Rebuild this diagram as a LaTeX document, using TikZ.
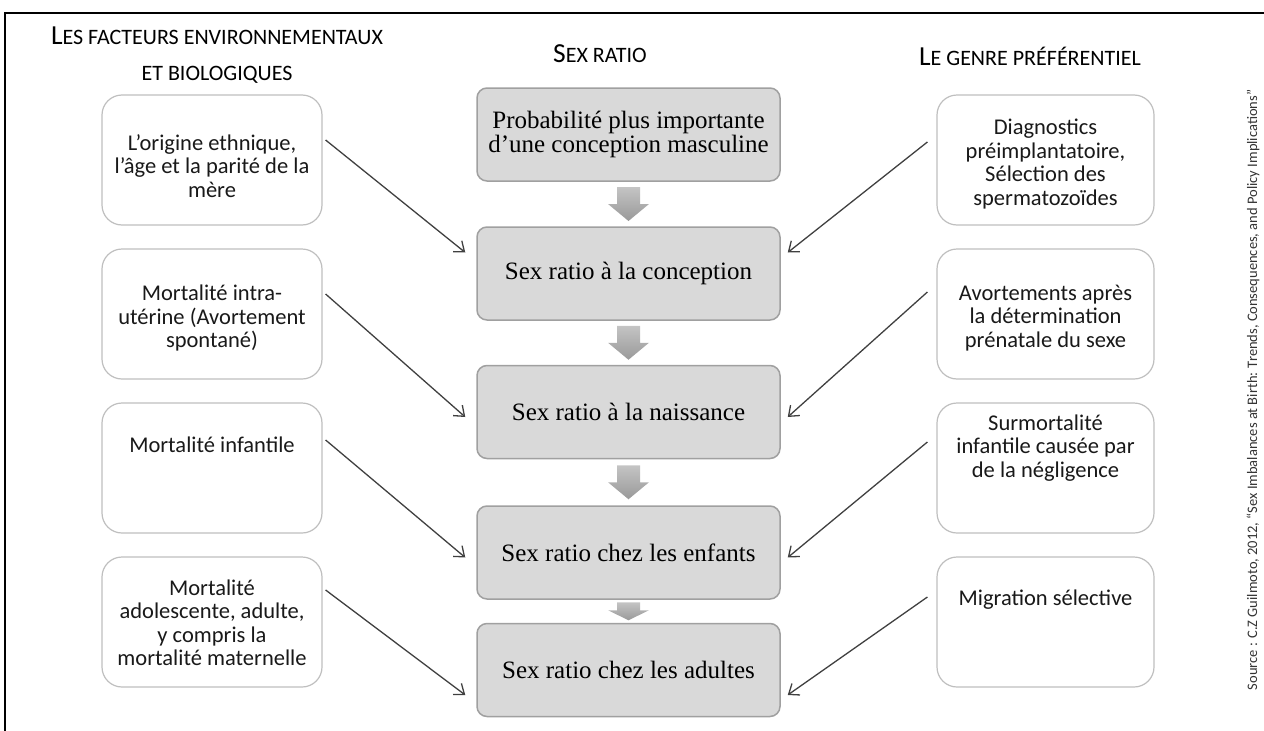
\documentclass[tikz,border=0pt]{standalone}
\usepackage{fontspec}
\setmainfont{Carlito}
\newfontfamily\ratiofont{Liberation Serif}
\usetikzlibrary{arrows.meta,calc}

\definecolor{boxline}{HTML}{BFBFBF}
\definecolor{ratiofill}{HTML}{D9D9D9}
\definecolor{ratioline}{HTML}{A0A0A0}
\definecolor{linkgray}{HTML}{404040}
\definecolor{arrowtop}{HTML}{C4C4C4}
\definecolor{arrowbot}{HTML}{999999}
\definecolor{srcgray}{HTML}{333333}

\tikzstyle{sidebox} = [draw=boxline, fill=white, line width=1.2pt,
    rectangle, rounded corners=20pt, minimum width=220pt, minimum height=130pt]
\tikzstyle{sidetext} = [align=center, text=black!90,
    font=\fontsize{22.5pt}{23.5pt}\selectfont]
\tikzstyle{ratiobox} = [draw=ratioline, fill=ratiofill, line width=1.5pt,
    rectangle, rounded corners=10pt, minimum width=303pt, minimum height=93pt,
    align=center, font=\ratiofont\fontsize{25pt}{24.5pt}\selectfont]
\tikzstyle{header} = [align=center, font=\fontsize{27.5pt}{36pt}\selectfont]
\tikzstyle{link} = [draw=linkgray, line width=1.3pt,
    -{Straight Barb[length=9pt,width=14pt]}]

\newcommand{\smallcap}[1]{{\fontsize{22pt}{36pt}\selectfont #1}}
% grey block arrow: centre, length, head length
\newcommand{\flowarrow}[3]{%
  \shade[top color=arrowtop, bottom color=arrowbot] (#1) ++(-11.5,-#2/2)
    -- ++(0,#2-#3) -- ++(-9,0) -- ++(20.5,#3) -- ++(20.5,-#3)
    -- ++(-9,0) -- ++(0,-#2+#3) -- cycle;}

\begin{document}
\begin{tikzpicture}[x=1pt, y=-1pt]
\useasboundingbox (0,0) rectangle (1264,731);
\draw[line width=2pt] (5,731) -- (5,13) -- (1264,13);

%------------ Headers ---------------------
\node[header] (hleft) at (217,55)
  {L\smallcap{ES FACTEURS ENVIRONNEMENTAUX}\\\smallcap{ET BIOLOGIQUES}};
\node[header] (hmid) at (600,54) {S\smallcap{EX RATIO}};
\node[header] (hright) at (1030,56) {L\smallcap{E GENRE PRÉFÉRENTIEL}};

%------------ Sex ratio ---------------------
\node[ratiobox] (m1) at (628.5,134.5) {Probabilité plus importante\\d’une conception masculine};
\node[ratiobox] (m2) at (628.5,273.5) {Sex ratio à la conception};
\node[ratiobox] (m3) at (628.5,412) {Sex ratio à la naissance};
\node[ratiobox] (m4) at (628.5,552.5) {Sex ratio chez les enfants};
\node[ratiobox] (m5) at (628.5,670) {Sex ratio chez les adultes};

\flowarrow{$(m1.south)!0.5!(m2.north)$}{34}{17}
\flowarrow{$(m2.south)!0.5!(m3.north)$}{34}{17}
\flowarrow{$(m3.south)!0.5!(m4.north)$}{34}{17}
\flowarrow{$(m4.south)!0.5!(m5.north)$}{18}{10}

%------------ Facteurs ---------------------
\node[sidebox] (l1) at (212,160) {};
\node[sidebox] (l2) at (212,314) {};
\node[sidebox] (l3) at (212,468) {};
\node[sidebox] (l4) at (212,622) {};
\node[sidetext] (l1text) at ([yshift=-6pt]l1.center) {L’origine ethnique,\\l’âge et la parité de la\\mère};
\node[sidetext] (l2text) at ([yshift=-4pt]l2.center) {Mortalité intra-\\utérine (Avortement\\spontané)};
\node[sidetext] (l3text) at ([yshift=23pt]l3.center) {Mortalité infantile};
\node[sidetext] (l4text) at ([yshift=-1pt]l4.center) {Mortalité\\adolescente, adulte,\\y compris la\\mortalité maternelle};

%------------ Genre ---------------------
\node[sidebox, minimum width=217pt] (r1) at (1045.5,160) {};
\node[sidebox, minimum width=217pt] (r2) at (1045.5,314) {};
\node[sidebox, minimum width=217pt] (r3) at (1045.5,468) {};
\node[sidebox, minimum width=217pt] (r4) at (1045.5,622) {};
\node[sidetext] (r1text) at ([yshift=-4pt]r1.center) {Diagnostics\\préimplantatoire,\\Sélection des\\spermatozoïdes};
\node[sidetext] (r2text) at ([yshift=-4pt]r2.center) {Avortements après\\la détermination\\prénatale du sexe};
\node[sidetext] (r3text) at ([yshift=20pt]r3.center) {Surmortalité\\infantile causée par\\de la négligence};
\node[sidetext] (r4text) at ([yshift=22pt]r4.center) {Migration sélective};

%------------ Links ---------------------
\draw[link] ([xshift=3pt,yshift=20pt]l1.east) -- ([xshift=-11pt,yshift=21pt]m2.west);
\draw[link] ([xshift=3pt,yshift=20pt]l2.east) -- ([xshift=-11pt,yshift=-5pt]m3.west);
\draw[link] ([xshift=3pt,yshift=28pt]l3.east) -- ([xshift=-11pt,yshift=-5pt]m4.west);
\draw[link] ([xshift=3pt,yshift=32pt]l4.east) -- ([xshift=-11pt,yshift=-25pt]m5.west);
\draw[link] ([xshift=-9pt,yshift=18pt]r1.west) -- ([xshift=7pt,yshift=21pt]m2.east);
\draw[link] ([xshift=-9pt,yshift=22pt]r2.west) -- ([xshift=7pt,yshift=-5pt]m3.east);
\draw[link] ([xshift=-9pt,yshift=26pt]r3.west) -- ([xshift=7pt,yshift=-5pt]m4.east);
\draw[link] ([xshift=-9pt,yshift=25pt]r4.west) -- ([xshift=7pt,yshift=-25pt]m5.east);

%------------ Source ---------------------
\node[rotate=90, text=srcgray, font=\fontsize{14.5pt}{16pt}\selectfont] (source) at (1253,390)
  {Source : C.Z Guilmoto, 2012, “Sex Imbalances at Birth: Trends, Consequences, and Policy Implications”};
\end{tikzpicture}
\end{document}
